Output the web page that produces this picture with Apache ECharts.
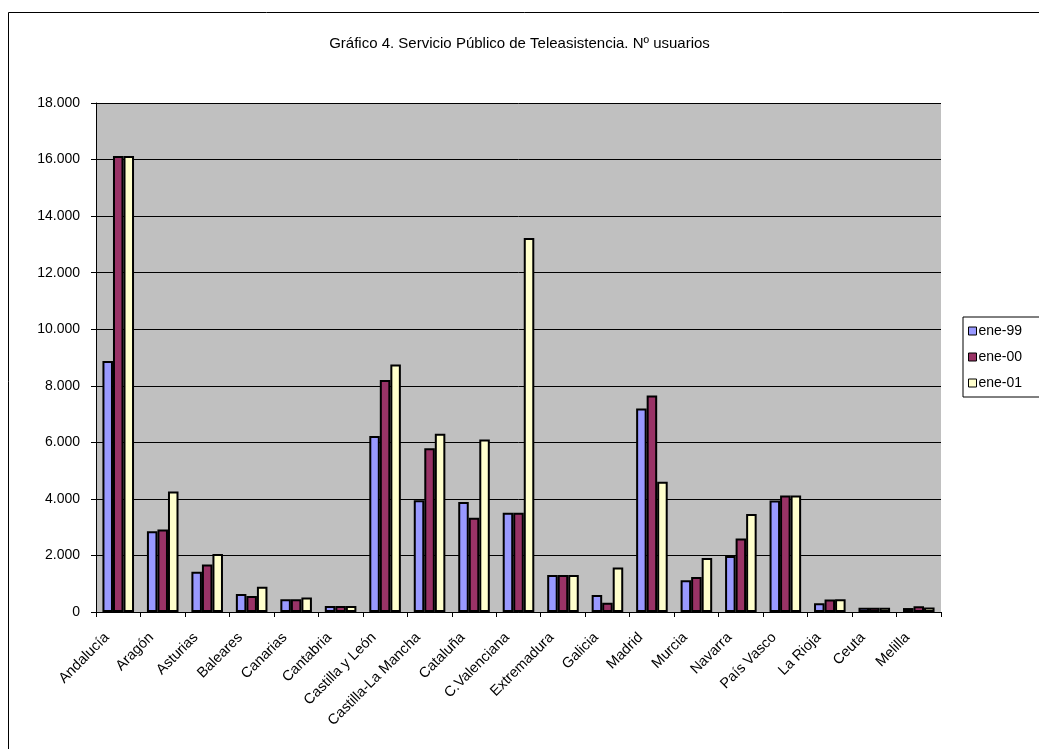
<!DOCTYPE html>
<html>
<head>
<meta charset="utf-8">
<script src="https://cdn.jsdelivr.net/npm/echarts@6/dist/echarts.min.js"></script>
<style>
html,body{margin:0;padding:0;background:#fff;}
#c{width:1039px;height:749px;}
</style>
</head>
<body>
<div id="c"></div>
<script>
const titleText = 'Gráfico 4. Servicio Público de Teleasistencia. Nº usuarios';
const categories = ['Andalucía','Aragón','Asturias','Baleares','Canarias','Cantabria','Castilla y León','Castilla-La Mancha','Cataluña','C.Valenciana','Extremadura','Galicia','Madrid','Murcia','Navarra','País Vasco','La Rioja','Ceuta','Melilla'];
const seriesNames = ['ene-99','ene-00','ene-01'];
const ene99 = [8880, 2860, 1420, 640, 450, 210, 6220, 3950, 3890, 3510, 1310, 600, 7200, 1120, 1980, 3940, 310, 150, 140];
const ene00 = [16130, 2920, 1680, 570, 450, 210, 8200, 5790, 3330, 3510, 1310, 330, 7660, 1240, 2600, 4120, 440, 150, 200];
const ene01 = [16130, 4260, 2050, 890, 510, 210, 8750, 6300, 6100, 13230, 1310, 1570, 4610, 1910, 3470, 4120, 450, 150, 160];
const yMin = 0, yMax = 18000, yStep = 2000;
const colors = ['#9999FF','#993366','#FFFFCC'];

const font = 'Liberation Sans, Arial, sans-serif';
const chart = echarts.init(document.getElementById('c'), null, {renderer:'canvas'});
const dataSets = [ene99, ene00, ene01];
chart.setOption({
  animation: false,
  backgroundColor: '#fff',
  textStyle: {fontFamily: font},
  graphic: [{
    type: 'rect', silent: true, z: -10,
    shape: {x: 8.5, y: 12.5, width: 1100, height: 800},
    style: {fill: 'none', stroke: '#000', lineWidth: 1}
  }],
  title: {
    text: titleText, left: 'center', top: 31,
    textStyle: {fontFamily: font, fontSize: 15, fontWeight: 'normal', color: '#000'}
  },
  legend: {
    orient: 'vertical', left: 963, top: 317,
    padding: [7, 24, 7, 5], itemGap: 12,
    itemWidth: 8, itemHeight: 8, icon: 'rect',
    borderColor: '#000', borderWidth: 1, borderRadius: 0,
    backgroundColor: '#fff',
    itemStyle: {borderColor: '#000', borderWidth: 1},
    textStyle: {fontFamily: font, fontSize: 14, color: '#000', lineHeight: 14, padding: [0,0,0,-3]},
    data: seriesNames
  },
  grid: {left: 96, right: 98, top: 103, bottom: 137, show: true, backgroundColor: '#C0C0C0', borderWidth: 0},
  xAxis: {
    type: 'category', data: categories, boundaryGap: true,
    axisLine: {show: true, lineStyle: {color: '#000', width: 1}},
    axisTick: {show: true, length: 5, alignWithLabel: false, lineStyle: {color: '#000'}},
    axisLabel: {rotate: 45, interval: 0, margin: 12, padding: [0, 16, 0, 0], fontFamily: font, fontSize: 14.5, color: '#000'},
    splitLine: {show: false}
  },
  yAxis: {
    type: 'value', min: yMin, max: yMax, interval: yStep,
    axisLine: {show: true, lineStyle: {color: '#000', width: 1}},
    axisTick: {show: true, length: 5, lineStyle: {color: '#000'}},
    axisLabel: {margin: 16, fontFamily: font, fontSize: 14, color: '#000',
      formatter: v => String(v).replace(/\B(?=(\d{3})+(?!\d))/g, '.')},
    splitLine: {show: true, lineStyle: {color: '#000', width: 1}}
  },
  series: seriesNames.map((n, i) => ({
    name: n, type: 'bar', data: dataSets[i],
    barGap: '0%', barCategoryGap: '29%',
    itemStyle: {color: colors[i], borderColor: '#000', borderWidth: 2}
  }))
});
</script>
</body>
</html>
